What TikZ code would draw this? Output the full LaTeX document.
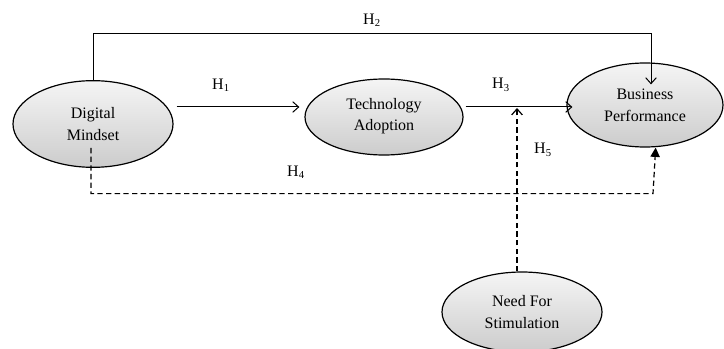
\documentclass[tikz,border=0pt]{standalone}
\usepackage{fontspec}
\setmainfont{Liberation Serif}
\usetikzlibrary{arrows.meta,shapes}

\begin{document}
\begin{tikzpicture}[x=0.75pt, y=-0.75pt, every node/.style={font=\fontsize{12}{16.5}\selectfont},
        construct/.style={ellipse, draw, line width=0.9pt, top color=gray!8, bottom color=gray!40, align=center, inner sep=0pt},
        hyp/.style={line width=0.75pt, -{Straight Barb[length=4.5pt,width=8pt]}},
        moder/.style={line width=0.9pt, dash pattern=on 4pt off 2.5pt}]
        \useasboundingbox (0,0) rectangle (724,349);
        \node[construct, minimum width=120pt, minimum height=65pt] (dm) at (93,124) {Digital\\Mindset};
        \node[construct, minimum width=118.5pt, minimum height=57pt] (ta) at (384,117) {\raisebox{4pt}{\shortstack{Technology\\[2pt]Adoption}}};
        \node[construct, minimum width=117pt, minimum height=63pt] (bp) at (645,105) {Business\\Performance};
        \node[construct, minimum width=120pt, minimum height=60pt] (ns) at (522,312) {Need For\\Stimulation};
        \coordinate (meet) at (517,108);
        \draw[hyp] ([shift={(3,-17)}]dm.east) -- ([shift={(-5,-10)}]ta.west);
        \draw[hyp] ([shift={(2,-10)}]ta.east) -- ([shift={(6,2)}]bp.west);
        \draw[hyp] (dm.north) |- ([shift={(6,-29)}]bp.north) -- ([shift={(6,22)}]bp.north);
        \draw[moder, -{Triangle[length=7pt,width=7pt]}] ([shift={(-2,-20)}]dm.south) |- ([shift={(8,46)}]bp.south) -- ([xshift=8]bp.south);
        \draw[moder, -{Straight Barb[length=4.5pt,width=8pt]}] (ns.north -| meet) -- (meet);
        \node (h1) at (221,85) {H\textsubscript{1}};
        \node (h2) at (372,20) {H\textsubscript{2}};
        \node (h3) at (501,85) {H\textsubscript{3}};
        \node (h4) at (296,172) {H\textsubscript{4}};
        \node (h5) at (543,150) {H\textsubscript{5}};
    \end{tikzpicture}
\end{document}
